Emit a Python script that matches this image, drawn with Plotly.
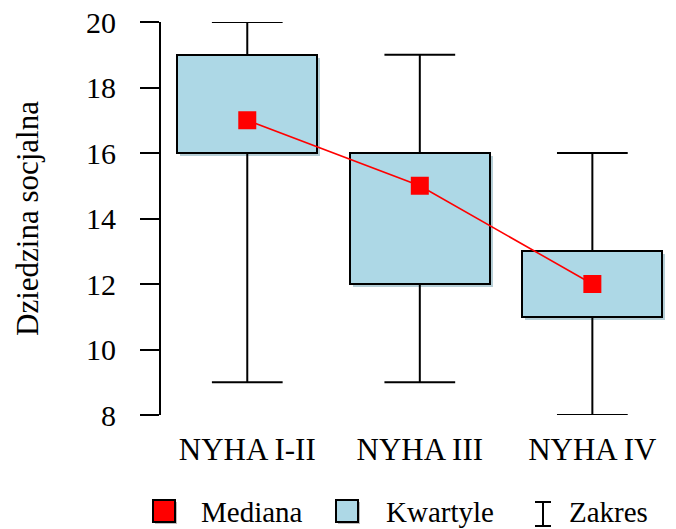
import plotly.graph_objects as go

# Summary statistics for each NYHA class
categories = ["NYHA I-II", "NYHA III", "NYHA IV"]
minimum = [9, 9, 8]
q1 = [16, 12, 11]
median = [17, 15, 12]
q3 = [19, 16, 13]
maximum = [20, 19, 16]
y_ticks = [8, 10, 12, 14, 16, 18, 20]

FONT = "Liberation Serif"
FS_AX = 31
FS_TICK = 30
FS_LEG = 29
BOX_W = 0.81
CAP_HALF = 0.205
BOX_FILL = "#ADD8E6"

# plot area in pixels (for the hand-built legend and the box shadow)
W, H = 676, 529
ML, MR, MT, MB = 161, 6, 22, 114
PW, PH = W - ML - MR, H - MT - MB
XR = [-0.5, 2.45]
YR = [8, 20]
px_x = (XR[1] - XR[0]) / PW
px_y = (YR[1] - YR[0]) / PH

xs = list(range(len(categories)))

fig = go.Figure()

# soft shadow behind each box
sh = 3
fig.add_trace(go.Bar(
    x=[i + sh * px_x for i in xs],
    y=[b - a for a, b in zip(q1, q3)],
    base=[a - sh * px_y for a in q1],
    width=BOX_W, marker=dict(color="rgba(120,165,180,0.55)", line=dict(width=0)),
    showlegend=False, hoverinfo="skip"))

# whiskers: vertical stems and caps
wx, wy = [], []
for i in xs:
    wx += [i, i, None, i, i, None]
    wy += [minimum[i], q1[i], None, q3[i], maximum[i], None]
    wx += [i - CAP_HALF, i + CAP_HALF, None, i - CAP_HALF, i + CAP_HALF, None]
    wy += [minimum[i], minimum[i], None, maximum[i], maximum[i], None]
fig.add_trace(go.Scatter(x=wx, y=wy, mode="lines",
                         line=dict(color="black", width=2),
                         showlegend=False, hoverinfo="skip"))

# interquartile boxes
fig.add_trace(go.Bar(
    x=xs, y=[b - a for a, b in zip(q1, q3)], base=q1, width=BOX_W,
    marker=dict(color=BOX_FILL, line=dict(color="black", width=2)),
    showlegend=False))

# medians joined by a line
fig.add_trace(go.Scatter(
    x=xs, y=median, mode="lines+markers",
    line=dict(color="red", width=1.6),
    marker=dict(symbol="square", size=18, color="red"),
    showlegend=False))


def pxp(x):
    return (x - ML) / PW


def pyp(y):
    return (H - MB - y) / PH


shapes = []
annotations = []
LY = 511  # legend row centre (px)


def legend_square(x0, x1, color):
    shapes.append(dict(type="rect", xref="paper", yref="paper",
                       x0=pxp(x0 + 2), x1=pxp(x1 + 2), y0=pyp(LY + 13), y1=pyp(LY - 9),
                       fillcolor="rgba(120,120,120,0.5)", line=dict(width=0), layer="above"))
    shapes.append(dict(type="rect", xref="paper", yref="paper",
                       x0=pxp(x0), x1=pxp(x1), y0=pyp(LY + 11), y1=pyp(LY - 11),
                       fillcolor=color, line=dict(color="black", width=2), layer="above"))


def legend_text(x, txt):
    annotations.append(dict(xref="paper", yref="paper", x=pxp(x), y=pyp(LY + 1),
                            text=txt, showarrow=False, xanchor="left", yanchor="middle",
                            font=dict(family=FONT, size=FS_LEG, color="black")))


legend_square(153, 175, "red")
legend_text(199, "Mediana")
legend_square(336, 358, BOX_FILL)
legend_text(384, "Kwartyle")
# range glyph
ib = 543
for seg in [(ib, 502, ib, 526), (ib - 8, 502, ib + 8, 502), (ib - 8, 526, ib + 8, 526)]:
    shapes.append(dict(type="line", xref="paper", yref="paper",
                       x0=pxp(seg[0]), y0=pyp(seg[1]), x1=pxp(seg[2]), y1=pyp(seg[3]),
                       line=dict(color="black", width=2)))
legend_text(567, "Zakres")

fig.update_layout(
    width=W, height=H,
    margin=dict(l=ML, r=MR, t=MT, b=MB, pad=0),
    paper_bgcolor="white", plot_bgcolor="white",
    showlegend=False, barmode="overlay", bargap=0,
    font=dict(family=FONT, size=FS_TICK, color="black"),
    shapes=shapes, annotations=annotations,
    xaxis=dict(range=XR, tickmode="array", tickvals=xs, ticktext=categories,
               showline=False, showgrid=False, zeroline=False, ticks="",
               ticklabelstandoff=13, tickfont=dict(family=FONT, size=FS_AX)),
    yaxis=dict(range=YR, tickmode="array", tickvals=y_ticks,
               showline=True, linecolor="black", linewidth=2,
               ticks="outside", ticklen=19, tickwidth=2, tickcolor="black",
               showgrid=False, zeroline=False, ticklabelstandoff=18,
               tickfont=dict(family=FONT, size=FS_TICK),
               title=dict(text="Dziedzina socjalna", standoff=38,
                          font=dict(family=FONT, size=FS_AX))),
)

fig.write_html("out.html")
